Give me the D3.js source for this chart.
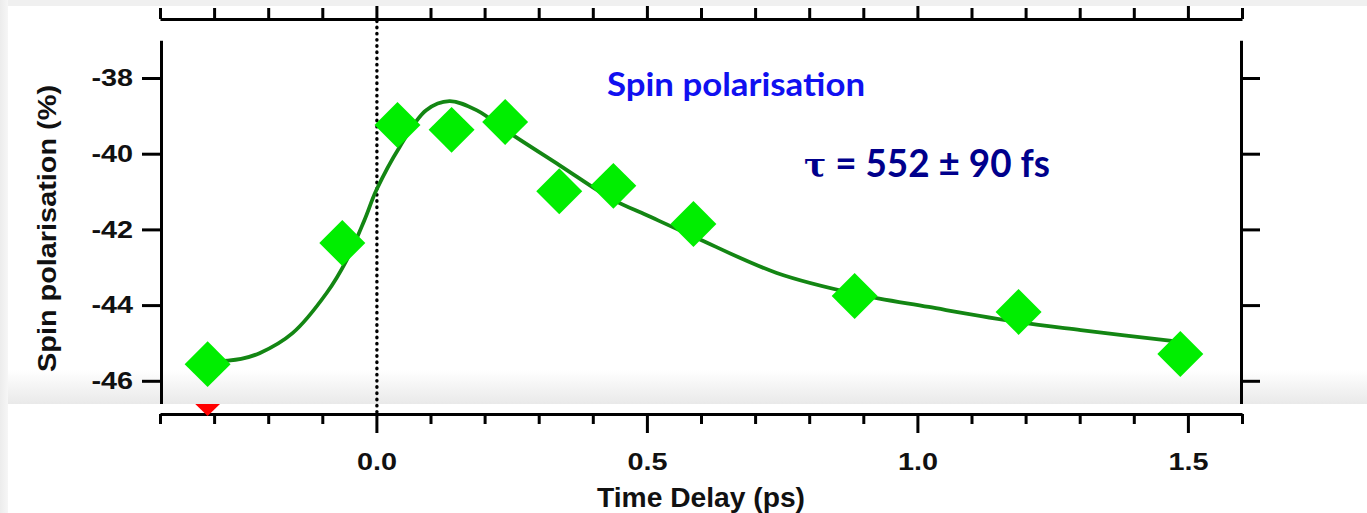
<!DOCTYPE html>
<html>
<head>
<meta charset="utf-8">
<script src="https://cdn.jsdelivr.net/npm/d3@7"></script>
<style>
body { margin: 0; background: #fff; }
svg { display: block; }
</style>
</head>
<body>
<script>
// measured points (time delay in ps, spin polarisation in %)
var delay = [-0.312, -0.063, 0.039, 0.139, 0.238, 0.338, 0.438, 0.586, 0.884, 1.187, 1.486];
var polarisation = [-45.56, -42.36, -39.24, -39.37, -39.16, -40.99, -40.85, -41.86, -43.76, -44.18, -45.29];

// fit curve
var fitDelay = [-0.312, -0.25, -0.216, -0.155, -0.092, -0.055, -0.022, 0.0, 0.043, 0.092, 0.135, 0.185, 0.246, 0.338, 0.438, 0.499, 0.588, 0.740, 0.888, 1.021, 1.187, 1.302, 1.486];
var fitPolarisation = [-45.50, -45.42, -45.27, -44.74, -43.68, -42.81, -41.75, -40.96, -39.82, -38.85, -38.61, -38.85, -39.45, -40.30, -41.22, -41.62, -42.20, -43.15, -43.71, -44.05, -44.45, -44.66, -44.97];

// red marker of the panel below, mostly hidden
var hiddenDelay = [-0.312];
var hiddenPolarisation = [-46.61];

var xTicks = [-0.4, -0.3, -0.2, -0.1, 0.0, 0.1, 0.2, 0.3, 0.4, 0.5, 0.6, 0.7, 0.8, 0.9, 1.0, 1.1, 1.2, 1.3, 1.4, 1.5, 1.6];
var xMajor = [0.0, 0.5, 1.0, 1.5];
var yTicks = [-38, -40, -42, -44, -46];

var W = 1367, H = 513;
var panelBottom = 404;

var x = d3.scaleLinear().domain([-0.4, 1.6]).range([160, 1242]);
var y = d3.scaleLinear().domain([-37, -47]).range([40.15, 418.65]);

var svg = d3.select("body").append("svg").attr("width", W).attr("height", H);
var defs = svg.append("defs");

var band = defs.append("linearGradient").attr("id", "band").attr("x1", 0).attr("y1", 0).attr("x2", 0).attr("y2", 1);
band.append("stop").attr("offset", "0%").attr("stop-color", "#ffffff");
band.append("stop").attr("offset", "100%").attr("stop-color", "#e9e9e9");

var edge = defs.append("linearGradient").attr("id", "edge").attr("x1", 0).attr("y1", 0).attr("x2", 1).attr("y2", 0);
edge.append("stop").attr("offset", "0%").attr("stop-color", "#ececec");
edge.append("stop").attr("offset", "100%").attr("stop-color", "#f6f6f6");

defs.append("clipPath").attr("id", "upper").append("rect")
    .attr("x", 0).attr("y", 0).attr("width", W).attr("height", panelBottom);
defs.append("clipPath").attr("id", "lower").append("rect")
    .attr("x", 0).attr("y", panelBottom).attr("width", W).attr("height", H - panelBottom);

svg.append("rect").attr("width", W).attr("height", H).attr("fill", "#fff");
svg.append("rect").attr("x", 8).attr("y", 370).attr("width", W - 8).attr("height", panelBottom - 370)
    .attr("fill", "url(#band)");

// dotted zero line
svg.append("line")
    .attr("x1", x(0) + 0.5).attr("x2", x(0) + 0.5)
    .attr("y1", 21).attr("y2", 412)
    .attr("stroke", "#000").attr("stroke-width", 3.4)
    .attr("stroke-linecap", "round").attr("stroke-dasharray", "0.5,5.7");

// fit
var fit = fitDelay.map(function(d, i) { return [d, fitPolarisation[i]]; });
svg.append("path")
    .datum(fit)
    .attr("fill", "none")
    .attr("stroke", "#138613")
    .attr("stroke-width", 3.8)
    .attr("d", d3.line().x(function(d) { return x(d[0]); }).y(function(d) { return y(d[1]); })
        .curve(d3.curveCatmullRom.alpha(0.5)));

// data diamonds
var diamond = d3.symbol().type(d3.symbolSquare).size(1056);
svg.append("g").selectAll("path")
    .data(delay)
    .join("path")
    .attr("d", diamond)
    .attr("fill", "#00ee00")
    .attr("transform", function(d, i) {
        return "translate(" + x(d) + "," + y(polarisation[i]) + ") rotate(45)";
    });

function styleAxis(g) {
    g.selectAll("path.domain").attr("stroke", "#000").attr("stroke-width", 3);
    g.selectAll(".tick line").attr("stroke", "#000").attr("stroke-width", 3);
    g.selectAll("text")
        .attr("fill", "#111")
        .style("font-family", "'Liberation Sans', Arial, sans-serif")
        .style("font-weight", "bold")
        .style("font-size", "24px");
}

var tickScaleX = 1.2;

// left axis
var leftAxis = svg.append("g").attr("clip-path", "url(#upper)")
    .append("g")
    .attr("transform", "translate(161,0)")
    .call(d3.axisLeft(y).tickValues(yTicks).tickSize(19).tickSizeOuter(0).tickPadding(9)
        .tickFormat(function(d) { return String(d); }));
styleAxis(leftAxis);
leftAxis.selectAll("text")
    .attr("x", -28 / tickScaleX)
    .attr("transform", "scale(" + tickScaleX + ",1)");

// right axis
var rightAxis = svg.append("g").attr("clip-path", "url(#upper)")
    .append("g")
    .attr("transform", "translate(1241,0)")
    .call(d3.axisRight(y).tickValues(yTicks).tickSize(19).tickSizeOuter(0).tickFormat(""));
styleAxis(rightAxis);

function isMajor(d) {
    return xMajor.some(function(m) { return Math.abs(m - d) < 1e-6; });
}

// top axis
var topAxis = svg.append("g")
    .attr("transform", "translate(0,19)")
    .call(d3.axisTop(x).tickValues(xTicks).tickSizeOuter(0).tickFormat(""));
styleAxis(topAxis);
topAxis.selectAll(".tick line").attr("y2", function(d) { return isMajor(d) ? -15 : -11; });

// bottom axis
var bottomAxis = svg.append("g")
    .attr("transform", "translate(0,414)")
    .call(d3.axisBottom(x).tickValues(xTicks).tickSizeOuter(0)
        .tickFormat(function(d) { return isMajor(d) ? d3.format(".1f")(d) : ""; }));
styleAxis(bottomAxis);
bottomAxis.selectAll(".tick line").attr("y2", function(d) { return isMajor(d) ? 19 : 10; });
bottomAxis.selectAll("text")
    .attr("y", 39)
    .attr("transform", "scale(" + tickScaleX + ",1)");

// red triangle from the panel below, drawn over the axis line
var downTriangle = {
    draw: function(context, size) {
        var r = Math.sqrt(size) / 2;
        context.moveTo(-2.08 * r, -r);
        context.lineTo(2.08 * r, -r);
        context.lineTo(0, r);
        context.closePath();
    }
};
svg.append("g").attr("clip-path", "url(#lower)").selectAll("path")
    .data(hiddenDelay)
    .join("path")
    .attr("d", d3.symbol().type(downTriangle).size(576))
    .attr("fill", "#ff0000")
    .attr("transform", function(d, i) {
        return "translate(" + x(d) + "," + y(hiddenPolarisation[i]) + ")";
    });

// axis titles
svg.append("text")
    .attr("transform", "translate(56,228.5) rotate(-90)")
    .attr("text-anchor", "middle")
    .attr("textLength", 287).attr("lengthAdjust", "spacingAndGlyphs")
    .style("font-family", "'Liberation Sans', Arial, sans-serif")
    .style("font-weight", "bold").style("font-size", "25px")
    .attr("fill", "#111")
    .text("Spin polarisation (%)");

svg.append("text")
    .attr("x", 701).attr("y", 507)
    .attr("text-anchor", "middle")
    .attr("textLength", 208).attr("lengthAdjust", "spacingAndGlyphs")
    .style("font-family", "'Liberation Sans', Arial, sans-serif")
    .style("font-weight", "bold").style("font-size", "27px")
    .attr("fill", "#111")
    .text("Time Delay (ps)");

// annotations
svg.append("text")
    .attr("x", 607).attr("y", 96)
    .attr("textLength", 258).attr("lengthAdjust", "spacingAndGlyphs")
    .style("font-family", "Lato, 'Open Sans', sans-serif")
    .style("font-weight", "bold").style("font-size", "32px")
    .attr("fill", "#1010f0")
    .text("Spin polarisation");

var tau = svg.append("text")
    .attr("x", 804).attr("y", 177)
    .style("font-family", "Lato, 'Open Sans', sans-serif")
    .style("font-weight", "bold").style("font-size", "38px")
    .attr("fill", "#00008c");
tau.append("tspan")
    .attr("font-family", "'DejaVu Serif', 'Liberation Serif', serif")
    .style("font-family", "'DejaVu Serif', 'Liberation Serif', serif")
    .style("font-size", "34px")
    .text("\u03c4");
tau.append("tspan").text(" = 552 \u00b1 90 fs");
tau.attr("textLength", 246).attr("lengthAdjust", "spacingAndGlyphs");

// page edges
svg.append("rect").attr("x", 0).attr("y", 0).attr("width", W).attr("height", 6).attr("fill", "#f0f0f0");
svg.append("rect").attr("x", 0).attr("y", 0).attr("width", 8).attr("height", H).attr("fill", "url(#edge)");
</script>
</body>
</html>
